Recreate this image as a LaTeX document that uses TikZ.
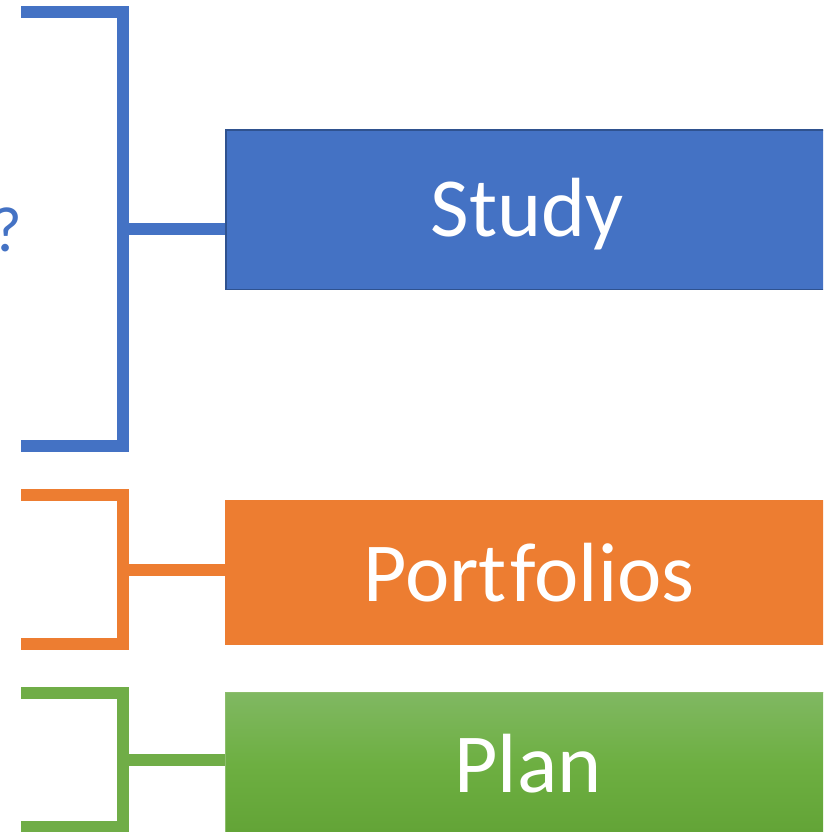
\documentclass[tikz,border=0pt]{standalone}
\usepackage{fontspec}
\setmainfont{Carlito}[Ligatures=NoCommon, RawFeature={-liga;-clig;-dlig}]
\definecolor{cblue}{HTML}{4472C4}
\definecolor{cblueD}{HTML}{2F528F}
\definecolor{corange}{HTML}{ED7D31}
\definecolor{cgreen}{HTML}{70AD47}
\definecolor{cgreenT}{HTML}{80B862}
\definecolor{cgreenM}{HTML}{6DAF41}
\definecolor{cgreenB}{HTML}{62A336}
\tikzset{
  bracket/.style={line width=12pt, line join=miter, line cap=butt},
  box/.style={rectangle, inner sep=0pt, minimum width=604pt, anchor=north west},
  lbl/.style={text=white, font=\fontsize{84}{84}\selectfont, anchor=base, inner sep=0pt},
}
\begin{document}
\begin{tikzpicture}[x=1pt,y=-1pt]
\useasboundingbox (0,0) rectangle (823,832);
\clip (0,0) rectangle (823,832);
% blue group
\node[box, fill=cblue, draw=cblueD, line width=1.5pt, minimum height=159pt] (study) at (225,129.5) {};
\node[lbl] (studyt) at (527,236) {Study};
\node[text=cblue, font=\fontsize{64}{64}\selectfont, anchor=base east, inner sep=0pt] (q) at (22,251) {?};
\coordinate (bt) at (21,12);
\coordinate (bb) at (21,446);
\coordinate (bj) at (123,229);
\draw[bracket, cblue] (bt) -- (123,12) -- (123,446) -- (bb);
\draw[bracket, cblue] (bj) -- (bj -| study.west);
% orange group
\node[box, fill=corange, minimum height=145pt] (port) at (225,500) {};
\node[lbl] (portt) at (529,601) {Port\kern4pt{}folios};
\coordinate (ot) at (21,495);
\coordinate (ob) at (21,644);
\coordinate (oj) at (123,569.5);
\draw[bracket, corange] (ot) -- (123,495) -- (123,644) -- (ob);
\draw[bracket, corange] (oj) -- (oj -| port.west);
% green group
\node[box, top color=cgreenT, bottom color=cgreenB, middle color=cgreenM, draw=cgreen!80!white, line width=0.8pt, minimum height=145pt] (plan) at (225,692) {};
\node[lbl] (plant) at (528,792) {Plan};
\coordinate (gt) at (21,693);
\coordinate (gb) at (21,827);
\coordinate (gj) at (123,760);
\draw[bracket, cgreen] (gt) -- (123,693) -- (123,827) -- (gb);
\draw[bracket, cgreen] (gj) -- (gj -| plan.west);
\end{tikzpicture}
\end{document}
